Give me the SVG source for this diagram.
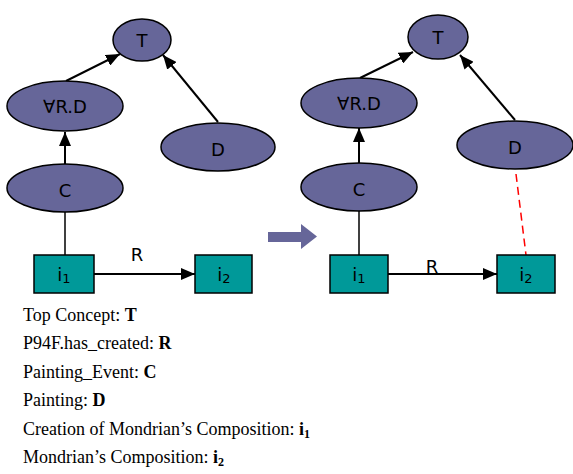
<svg xmlns="http://www.w3.org/2000/svg" width="573" height="474" viewBox="0 0 573 474">
<defs>
<marker id="ah" markerWidth="14" markerHeight="12" refX="14" refY="6" orient="auto" markerUnits="userSpaceOnUse">
<path d="M0,0 L14,6 L0,12 Z" fill="#000"/>
</marker>
<style>
.c{fill:#666699;stroke:#000;stroke-width:1.5}
.b{fill:#009999;stroke:#000;stroke-width:1.5}
.t{font-family:"DejaVu Sans",Verdana,sans-serif;font-size:18px;fill:#000;text-anchor:middle}
.e{stroke:#000;stroke-width:2;fill:none}
.l{stroke:#000;stroke-width:1.5;fill:none}
.cap{font-family:"Liberation Serif","Times New Roman",serif;font-size:18px;fill:#000}
.bd{font-weight:bold}
</style>
</defs>
<g id="edges">
<line class="e" x1="66" y1="81" x2="120" y2="54" marker-end="url(#ah)"/>
<line class="e" x1="218" y1="122" x2="163" y2="55" marker-end="url(#ah)"/>
<line class="e" x1="65" y1="164" x2="65" y2="132" marker-end="url(#ah)"/>
<line class="l" x1="65" y1="212" x2="65" y2="255"/>
<line class="e" x1="94" y1="274" x2="195" y2="274" marker-end="url(#ah)"/>
<line class="e" x1="360" y1="78" x2="413" y2="52" marker-end="url(#ah)"/>
<line class="e" x1="515" y1="120" x2="460" y2="55" marker-end="url(#ah)"/>
<line class="e" x1="359" y1="163" x2="359" y2="128" marker-end="url(#ah)"/>
<line class="l" x1="359" y1="211" x2="359" y2="255"/>
<line class="e" x1="388" y1="274" x2="497" y2="274" marker-end="url(#ah)"/>
<line x1="516" y1="174" x2="526" y2="255" stroke="#ff0000" stroke-width="1.5" stroke-dasharray="8,5"/>
<text class="t" x="137" y="261">R</text>
<text class="t" x="432" y="273">R</text>
</g>
<g id="L_T"><ellipse class="c" cx="142" cy="40" rx="29" ry="21"/><text class="t" x="142" y="47">T</text></g>
<g id="L_ARD"><ellipse class="c" cx="65" cy="106" rx="58" ry="25"/><text class="t" x="65" y="113">∀R.D</text></g>
<g id="L_D"><ellipse class="c" cx="218" cy="147" rx="57" ry="24"/><text class="t" x="218" y="156">D</text></g>
<g id="L_C"><ellipse class="c" cx="65" cy="188" rx="58" ry="24"/><text class="t" x="65" y="197">C</text></g>
<g id="L_i1"><rect class="b" x="34" y="255" width="60" height="38"/><text class="t" x="64" y="281">i<tspan font-size="13" dy="2">1</tspan></text></g>
<g id="L_i2"><rect class="b" x="195" y="255" width="57" height="38"/><text class="t" x="224" y="281">i<tspan font-size="13" dy="2">2</tspan></text></g>
<g id="arrow_mid"><path d="M268,232 L301,232 L301,224 L317,236.5 L301,249 L301,242 L268,242 Z" fill="#666699"/></g>
<g id="R_T"><ellipse class="c" cx="438" cy="37" rx="30" ry="22"/><text class="t" x="438" y="44">T</text></g>
<g id="R_ARD"><ellipse class="c" cx="359" cy="103" rx="58" ry="25"/><text class="t" x="359" y="110">∀R.D</text></g>
<g id="R_D"><ellipse class="c" cx="515" cy="145" rx="58" ry="24"/><text class="t" x="515" y="154">D</text></g>
<g id="R_C"><ellipse class="c" cx="359" cy="187" rx="58" ry="24"/><text class="t" x="359" y="196">C</text></g>
<g id="R_i1"><rect class="b" x="330" y="255" width="58" height="38"/><text class="t" x="359" y="281">i<tspan font-size="13" dy="2">1</tspan></text></g>
<g id="R_i2"><rect class="b" x="497" y="255" width="58" height="38"/><text class="t" x="526" y="281">i<tspan font-size="13" dy="2">2</tspan></text></g>
<g id="legend">
<text class="cap" x="23" y="321">Top Concept: <tspan class="bd">T</tspan></text>
<text class="cap" x="23" y="349">P94F.has_created: <tspan class="bd">R</tspan></text>
<text class="cap" x="23" y="378">Painting_Event: <tspan class="bd">C</tspan></text>
<text class="cap" x="23" y="406">Painting: <tspan class="bd">D</tspan></text>
<text class="cap" x="23" y="435">Creation of Mondrian’s Composition: <tspan class="bd">i<tspan font-size="12" dy="3">1</tspan></tspan></text>
<text class="cap" x="23" y="463">Mondrian’s Composition: <tspan class="bd">i<tspan font-size="12" dy="3">2</tspan></tspan></text>
</g>
</svg>
